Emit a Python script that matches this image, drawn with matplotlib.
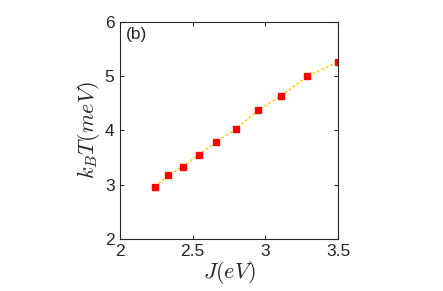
import numpy as np
import matplotlib
matplotlib.use("Agg")
import matplotlib.pyplot as plt

plt.rcParams['font.family'] = ['Liberation Sans', 'DejaVu Sans']
plt.rcParams['mathtext.fontset'] = 'cm'

J = [2.24, 2.33, 2.43, 2.54, 2.66, 2.80, 2.95, 3.11, 3.29, 3.50]
kT = [2.96, 3.17, 3.33, 3.55, 3.78, 4.03, 4.37, 4.64, 5.00, 5.26]
xticks = [2, 2.5, 3, 3.5]
yticks = [2, 3, 4, 5, 6]

fig = plt.figure(figsize=(4.43, 2.91), dpi=100)
ax = fig.add_axes([0.271, 0.179, 0.492, 0.746])

ax.plot(J, kT, color='#f5d000', linestyle='--', dashes=(2, 1.5), linewidth=1.0, zorder=1)
ax.plot(J, kT, linestyle='none', marker='s', markersize=4.5, color='red', zorder=2)

ax.set_xlim(2, 3.5)
ax.set_ylim(2, 6)
ax.set_xticks(xticks)
ax.set_xticklabels(['2', '2.5', '3', '3.5'])
ax.set_yticks(yticks)
ax.tick_params(direction='in', top=True, right=True, labelsize=12.5, length=3,
               color='#262626', labelcolor='#262626', pad=4)
for s in ax.spines.values():
    s.set_color('#262626')
    s.set_linewidth(0.8)

ax.set_xlabel(r'$J(eV)$', fontsize=16, labelpad=0, color='#262626')
ax.set_ylabel(r'$k_BT(meV)$', fontsize=16, labelpad=2, color='#262626')
ax.text(0.025, 0.94, '(b)', transform=ax.transAxes, fontsize=12.5, va='center', color='#262626')

fig.savefig('out.png', dpi=100)
